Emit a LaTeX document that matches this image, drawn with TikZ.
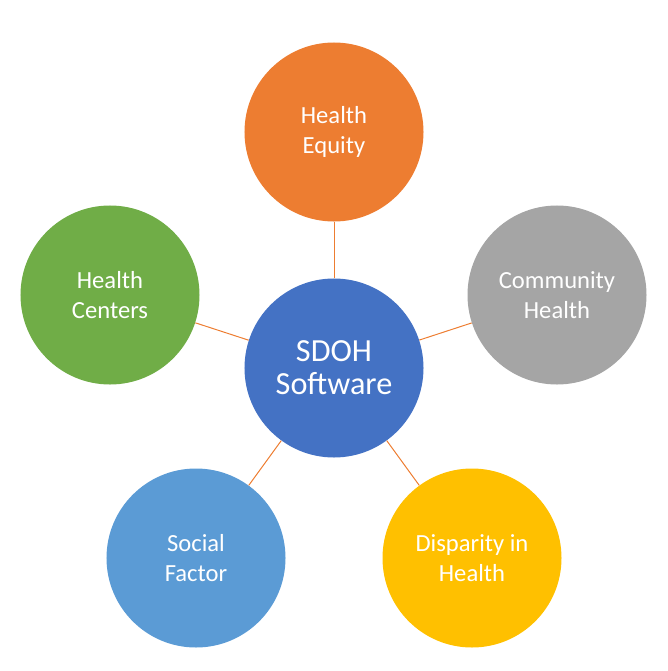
\documentclass[tikz,border=0pt]{standalone}
\usepackage{fontspec}
\setmainfont{Carlito}
\usepackage{tikz}
\usetikzlibrary{positioning}
\definecolor{hubblue}{HTML}{4472C4}
\definecolor{equityorange}{HTML}{ED7D31}
\definecolor{commgray}{HTML}{A5A5A5}
\definecolor{dispyellow}{HTML}{FFC000}
\definecolor{socialblue}{HTML}{5B9BD5}
\definecolor{centergreen}{HTML}{70AD47}
\tikzstyle{topic} = [circle, minimum size=5.37cm, inner sep=0pt, align=center, text=white, font=\fontsize{21}{25}\selectfont]
\tikzstyle{hub}   = [circle, minimum size=5.37cm, inner sep=0pt, align=center, text=white, font=\fontsize{27.5}{28}\selectfont, fill=hubblue]
\tikzstyle{link}  = [draw=equityorange, line width=0.85pt]

\begin{document}
\begin{tikzpicture}[x=0.03cm, y=-0.03cm]
            \useasboundingbox (0,0) rectangle (667,671);
            \node[hub] (sdoh) at (334,368) {SDOH\\Software};
            \node[topic, fill=equityorange] (equity) at (334,132) {Health\\Equity};
            \node[topic, fill=commgray] (community) at (557,295) {Community\\Health};
            \node[topic, fill=centergreen] (centers) at (110,295) {Health\\Centers};
            \node[topic, fill=socialblue] (social) at (196,558) {Social\\Factor};
            \node[topic, fill=dispyellow] (disparity) at (472,558) {Disparity in\\Health};
            
            \draw[link] (sdoh) -- (equity);
            \draw[link] (sdoh) -- (community);
            \draw[link] (sdoh) -- (centers);
            \draw[link] (sdoh) -- (social);
            \draw[link] (sdoh) -- (disparity);
        \end{tikzpicture}
\end{document}
